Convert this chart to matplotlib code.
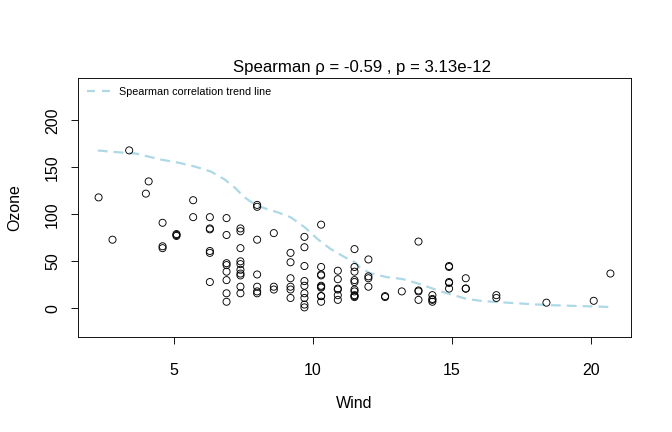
import matplotlib
matplotlib.use("Agg")
import matplotlib.pyplot as plt
from matplotlib.lines import Line2D

plt.rcParams["font.family"] = ["Liberation Sans", "DejaVu Sans"]

# Ozone vs Wind (complete cases)
wind = [7.4, 8.0, 12.6, 11.5, 14.9, 8.6, 13.8, 20.1, 6.9, 9.7, 9.2, 10.9, 13.2,
        11.5, 12.0, 18.4, 11.5, 9.7, 9.7, 16.6, 9.7, 12.0, 12.0, 14.9, 5.7, 7.4,
        9.7, 13.8, 11.5, 8.0, 14.9, 20.7, 9.2, 11.5, 10.3, 4.1, 9.2, 9.2, 4.6,
        10.9, 5.1, 6.3, 5.7, 7.4, 14.3, 14.9, 14.3, 6.9, 10.3, 6.3, 5.1, 11.5,
        6.9, 8.6, 8.0, 8.6, 12.0, 7.4, 7.4, 7.4, 9.2, 6.9, 13.8, 7.4, 6.9, 7.4,
        4.6, 4.0, 10.3, 8.0, 11.5, 11.5, 9.7, 10.3, 6.3, 7.4, 10.9, 10.3, 15.5,
        14.3, 9.7, 3.4, 8.0, 9.7, 2.3, 6.3, 6.3, 6.9, 5.1, 2.8, 4.6, 7.4, 15.5,
        10.9, 10.3, 10.9, 9.7, 14.9, 15.5, 6.3, 10.9, 11.5, 6.9, 13.8, 10.3,
        10.3, 8.0, 12.6, 9.2, 10.3, 10.3, 16.6, 6.9, 14.3, 8.0, 11.5]
ozone = [41, 36, 12, 18, 28, 23, 19, 8, 7, 16, 11, 14, 18,
         14, 34, 6, 30, 11, 1, 11, 4, 32, 23, 45, 115, 37,
         29, 71, 39, 23, 21, 37, 20, 12, 13, 135, 49, 32, 64,
         40, 77, 97, 97, 85, 10, 27, 7, 48, 35, 61, 79, 63,
         16, 80, 108, 20, 52, 82, 50, 64, 59, 39, 9, 16, 78, 35,
         66, 122, 89, 110, 44, 28, 65, 22, 59, 23, 31, 44, 21,
         9, 45, 168, 73, 76, 118, 84, 85, 96, 78, 73, 91, 47, 32,
         20, 23, 21, 24, 44, 21, 28, 9, 13, 46, 18, 13,
         24, 16, 13, 23, 36, 7, 14, 30, 14, 18, 20]

# trend line
trend_x = [2.27, 3.09, 3.63, 4.53, 5.14, 5.76, 6.33, 6.83, 7.19, 7.55, 7.91,
           8.27, 8.74, 9.21, 9.71, 10.18, 10.65, 11.15, 11.51, 11.69, 12.05,
           12.66, 13.24, 13.85, 14.57, 15.18, 15.54, 16.12, 17.19, 18.42,
           19.60, 20.76]
trend_y = [167.9, 165.8, 164.7, 158.3, 155.1, 150.8, 145.6, 137.1, 128.6,
           118.0, 110.6, 106.4, 102.1, 96.8, 86.2, 73.5, 62.9, 54.4, 49.1,
           43.8, 37.4, 33.2, 31.1, 25.8, 18.3, 13.0, 9.9, 7.7, 5.6, 3.5, 2.4,
           1.4]

x_ticks = [5, 10, 15, 20]
y_ticks = [0, 50, 100, 150, 200]
title = "Spearman \u03c1 = -0.59 , p = 3.13e-12"

fig = plt.figure(figsize=(672 / 72, 432 / 72), dpi=72)
ax = fig.add_axes([78 / 672, 1 - 337 / 432, (631 - 78) / 672, (337 - 78) / 432])

ax.scatter(wind, ozone, s=50, facecolors="none", edgecolors="black",
           linewidths=0.9, zorder=3)
ax.plot(trend_x, trend_y, color="#add8e6", lw=2.2, linestyle=(0, (4.5, 2.7)),
        zorder=2)

ax.set_xlim(1.56, 21.44)
ax.set_ylim(-30.5, 245)
ax.set_xticks(x_ticks)
ax.set_yticks(y_ticks)
ax.tick_params(direction="out", length=7, width=0.9, labelsize=16)
ax.tick_params(axis="x", pad=19)
ax.tick_params(axis="y", pad=11)
for lbl in ax.get_yticklabels():
    lbl.set_rotation(90)
    lbl.set_va("center")
for s in ax.spines.values():
    s.set_linewidth(0.9)

ax.set_xlabel("Wind", fontsize=16, labelpad=18)
ax.set_ylabel("Ozone", fontsize=16, labelpad=23)
ax.set_title(title, fontsize=16.8, pad=6, x=0.513)

handle = Line2D([], [], color="#add8e6", lw=2.2, linestyle=(0, (3.6, 3.2)))
ax.legend([handle], ["Spearman correlation trend line"], loc="upper left",
          frameon=False, fontsize=10.8, handlelength=2.2, handletextpad=0.8,
          borderaxespad=0.6, borderpad=0.2)

fig.savefig("out.png", dpi=72)
